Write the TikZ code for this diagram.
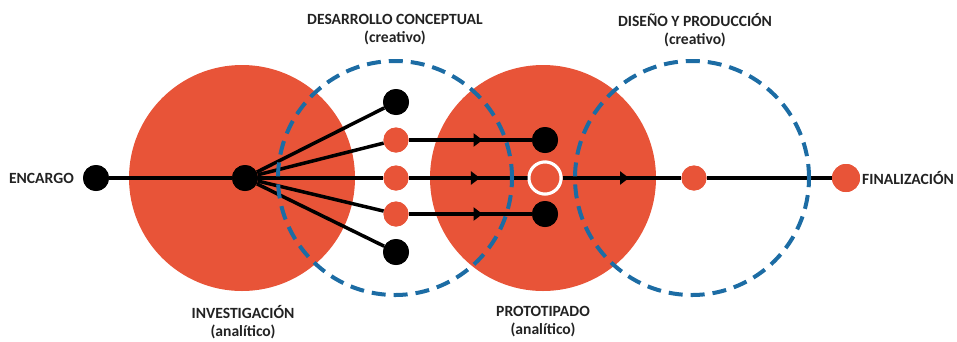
\documentclass[tikz,border=0pt]{standalone}
\usepackage{fontspec}
\setmainfont{Carlito}
\usetikzlibrary{arrows.meta,decorations.markings}
\definecolor{redc}{RGB}{232,84,56}
\definecolor{bluec}{RGB}{28,108,164}
\definecolor{txt}{RGB}{34,34,34}
\tikzset{
  bigdisc/.style={fill=redc},
  dashring/.style={draw=bluec,line width=4pt,dash pattern=on 14pt off 8pt},
  blk/.style={circle,fill=black,inner sep=0pt,minimum size=26pt},
  org/.style={circle,fill=redc,inner sep=0pt,minimum size=25pt},
  ringdot/.style={circle,fill=redc,draw=white,line width=3pt,inner sep=0pt,minimum size=32pt},
  conn/.style={draw=black,line width=3.5pt},
  midarrow/.style={postaction={decorate},decoration={markings,
     mark=at position #1 with {\arrow{Triangle[length=9pt,width=13pt]}}}},
  lbl/.style={font=\fontsize{15.6}{18}\selectfont\bfseries,text=txt,align=center,inner sep=0pt}
}
\begin{document}
\begin{tikzpicture}[x=1pt,y=-1pt]
\useasboundingbox (0,0) rectangle (957,341);
% big analytic discs
\fill[bigdisc] (242,178) circle (113pt);
\fill[bigdisc] (543,178) circle (113pt);
% nodes
\node[blk] (enc) at (96,178) {};
\node[blk] (hub) at (245,178) {};
\node[blk] (b1) at (396,102) {};
\node[org] (o1) at (396,140) {};
\node[org] (o2) at (396,178) {};
\node[org] (o3) at (396,214) {};
\node[blk] (b2) at (396,252) {};
\node[blk] (p1) at (545,140) {};
\node[ringdot] (pr) at (545,178) {};
\node[blk] (p2) at (545,214) {};
\node[org] (d1) at (694,178) {};
\node[org,minimum size=28pt] (fin) at (846,178) {};
% connectors
\draw[conn] (enc) -- (hub);
\foreach \t in {b1,o1,o2,o3,b2} \draw[conn] (hub) -- (\t);
\draw[conn,midarrow=0.6] (o1) -- (p1);
\draw[conn,midarrow=0.6] (o3) -- (p2);
\draw[conn,midarrow=0.6] (o2) -- (pr);
\draw[conn,midarrow=0.56] (pr) -- (d1);
\draw[conn] (d1) -- (fin);
% dashed creative circles
\draw[dashring] (395,178) circle (117pt);
\draw[dashring] (692,178) circle (117pt);
% redraw dots on top
\foreach \n/\s in {enc/blk,hub/blk,b1/blk,o1/org,o2/org,o3/org,b2/blk,p1/blk,p2/blk,d1/org}
  \path (\n.center) node[\s] {};
\path (pr.center) node[ringdot] {};
\path (fin.center) node[org,minimum size=28pt] {};
% labels
\node[lbl,anchor=east] (lenc) at (74,178) {ENCARGO};
\node[lbl,anchor=west] (lfin) at (862,178) {FINALIZACIÓN};
\node[lbl] (ldc) at (395,30) {DESARROLLO CONCEPTUAL\\(creativo)};
\node[lbl] (ldp) at (695,30) {DISEÑO Y PRODUCCIÓN\\(creativo)};
\node[lbl] (linv) at (243,322) {INVESTIGACIÓN\\(analítico)};
\node[lbl] (lpro) at (543,322) {PROTOTIPADO\\(analítico)};
\end{tikzpicture}
\end{document}
